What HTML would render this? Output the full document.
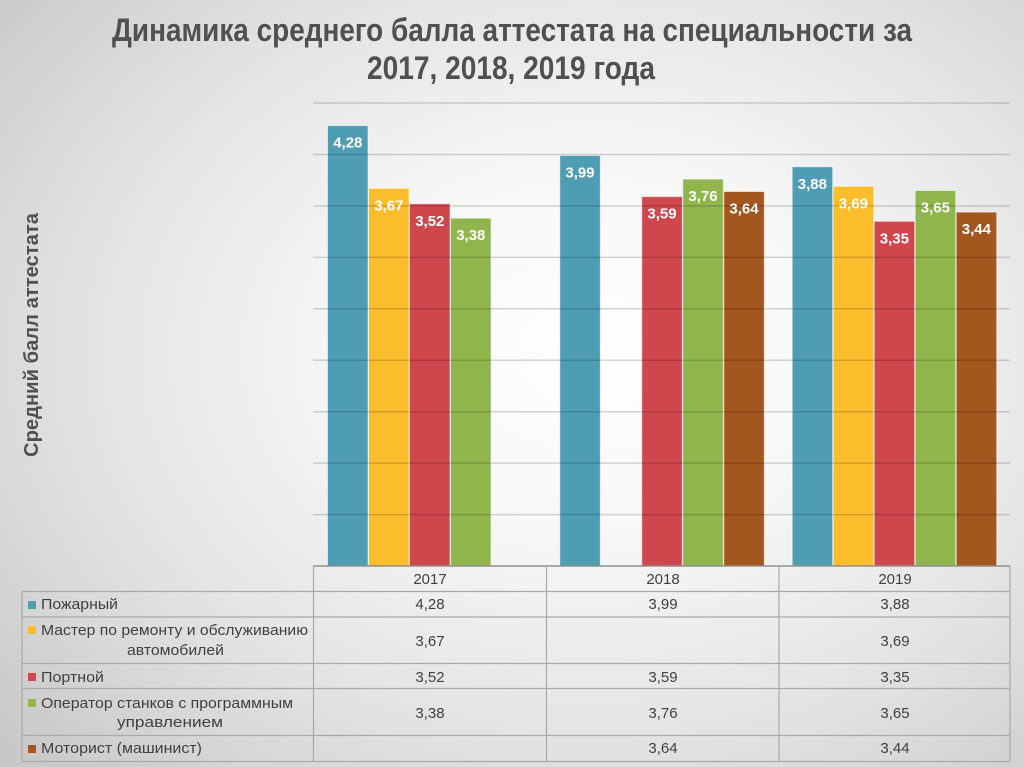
<!DOCTYPE html>
<html>
<head>
<meta charset="utf-8">
<style>
html,body{margin:0;padding:0;}
body{width:1024px;height:767px;overflow:hidden;
background:radial-gradient(ellipse 78% 80% at 58% 46%, #ffffff 0%, #f7f7f7 30%, #e4e4e4 62%, #d2d2d2 85%, #c6c6c6 100%);}
svg{display:block;}
text{font-family:"Liberation Sans","DejaVu Sans",sans-serif;}
</style>
</head>
<body>
<svg width="1024" height="767" viewBox="0 0 1024 767" xmlns="http://www.w3.org/2000/svg">
  <!-- Title -->
  <text x="512" y="41" text-anchor="middle" font-size="32" font-weight="bold" fill="#505050" textLength="800" lengthAdjust="spacingAndGlyphs">Динамика среднего балла аттестата на специальности за</text>
  <text x="511" y="79" text-anchor="middle" font-size="32" font-weight="bold" fill="#505050" textLength="288" lengthAdjust="spacingAndGlyphs">2017, 2018, 2019 года</text>

  <!-- Y axis label -->
  <text transform="translate(38,335) rotate(-90)" text-anchor="middle" font-size="20" font-weight="bold" fill="#505050" textLength="244" lengthAdjust="spacingAndGlyphs">Средний балл аттестата</text>

  <!-- Bars -->
  <g stroke="rgba(255,255,255,0.55)" stroke-width="1">
    <!-- 2017 -->
    <rect x="327.5" y="125.6" width="40.5" height="440.4" fill="#4e9db3"/>
    <rect x="368.5" y="188.4" width="40.5" height="377.6" fill="#fcbd2d"/>
    <rect x="409.5" y="203.8" width="40.5" height="362.2" fill="#ce474c"/>
    <rect x="450.5" y="218.2" width="40.5" height="347.8" fill="#90b54c"/>
    <!-- 2018 -->
    <rect x="559.8" y="155.5" width="40.5" height="410.5" fill="#4e9db3"/>
    <rect x="641.8" y="196.6" width="40.5" height="369.4" fill="#ce474c"/>
    <rect x="682.8" y="179.1" width="40.5" height="386.9" fill="#90b54c"/>
    <rect x="723.8" y="191.5" width="40.5" height="374.5" fill="#a4561f"/>
    <!-- 2019 -->
    <rect x="792.2" y="166.8" width="40.5" height="399.2" fill="#4e9db3"/>
    <rect x="833.2" y="186.3" width="40.5" height="379.7" fill="#fcbd2d"/>
    <rect x="874.2" y="221.3" width="40.5" height="344.7" fill="#ce474c"/>
    <rect x="915.2" y="190.5" width="40.5" height="375.5" fill="#90b54c"/>
    <rect x="956.2" y="212.1" width="40.5" height="353.9" fill="#a4561f"/>
  </g>

  <!-- Gridlines (drawn over bars) -->
  <g stroke="rgba(0,0,0,0.16)" stroke-width="1.5">
    <line x1="313" y1="103" x2="1010" y2="103"/>
    <line x1="313" y1="154.5" x2="1010" y2="154.5"/>
    <line x1="313" y1="205.9" x2="1010" y2="205.9"/>
    <line x1="313" y1="257.4" x2="1010" y2="257.4"/>
    <line x1="313" y1="308.8" x2="1010" y2="308.8"/>
    <line x1="313" y1="360.2" x2="1010" y2="360.2"/>
    <line x1="313" y1="411.7" x2="1010" y2="411.7"/>
    <line x1="313" y1="463.1" x2="1010" y2="463.1"/>
    <line x1="313" y1="514.6" x2="1010" y2="514.6"/>
  </g>

  <!-- Bar value labels -->
  <g font-size="15" font-weight="bold" fill="#ffffff" text-anchor="middle">
    <text x="347.8" y="147.6">4,28</text>
    <text x="388.8" y="210.4">3,67</text>
    <text x="429.8" y="225.8">3,52</text>
    <text x="470.8" y="240.2">3,38</text>
    <text x="580" y="177.5">3,99</text>
    <text x="662" y="218.6">3,59</text>
    <text x="703" y="201.1">3,76</text>
    <text x="744" y="213.5">3,64</text>
    <text x="812.4" y="188.8">3,88</text>
    <text x="853.4" y="208.3">3,69</text>
    <text x="894.4" y="243.3">3,35</text>
    <text x="935.4" y="212.5">3,65</text>
    <text x="976.4" y="234.1">3,44</text>
  </g>

  <!-- Data table -->
  <g stroke="#a9a9a9" stroke-width="1.2" fill="none">
    <line x1="313" y1="566" x2="1010" y2="566" stroke="#8f8f8f" stroke-width="1.5"/>
    <line x1="22" y1="591.5" x2="1010" y2="591.5"/>
    <line x1="22" y1="617" x2="1010" y2="617"/>
    <line x1="22" y1="663.5" x2="1010" y2="663.5"/>
    <line x1="22" y1="688.5" x2="1010" y2="688.5"/>
    <line x1="22" y1="735.5" x2="1010" y2="735.5"/>
    <line x1="22" y1="761.5" x2="1010" y2="761.5"/>
    <line x1="22" y1="591.5" x2="22" y2="761.5"/>
    <line x1="313.5" y1="566" x2="313.5" y2="761.5"/>
    <line x1="546.5" y1="566" x2="546.5" y2="761.5"/>
    <line x1="779" y1="566" x2="779" y2="761.5"/>
    <line x1="1010" y1="566" x2="1010" y2="761.5"/>
  </g>

  <g font-size="15" fill="#404040" text-anchor="middle">
    <text x="430" y="584">2017</text>
    <text x="663" y="584">2018</text>
    <text x="895" y="584">2019</text>

    <text x="430" y="609">4,28</text>
    <text x="663" y="609">3,99</text>
    <text x="895" y="609">3,88</text>

    <text x="430" y="646">3,67</text>
    <text x="895" y="646">3,69</text>

    <text x="430" y="682">3,52</text>
    <text x="663" y="682">3,59</text>
    <text x="895" y="682">3,35</text>

    <text x="430" y="718">3,38</text>
    <text x="663" y="718">3,76</text>
    <text x="895" y="718">3,65</text>

    <text x="663" y="753">3,64</text>
    <text x="895" y="753">3,44</text>
  </g>

  <!-- Legend markers -->
  <rect x="28" y="601" width="8" height="8" fill="#4e9db3"/>
  <rect x="28" y="626" width="8" height="8" fill="#fcbd2d"/>
  <rect x="28" y="673" width="8" height="8" fill="#ce474c"/>
  <rect x="28" y="699" width="8" height="8" fill="#90b54c"/>
  <rect x="28" y="745" width="8" height="8" fill="#a4561f"/>

  <g font-size="15" fill="#404040">
    <text x="41" y="609" textLength="77" lengthAdjust="spacingAndGlyphs">Пожарный</text>
    <text x="41" y="635" textLength="267" lengthAdjust="spacingAndGlyphs">Мастер по ремонту и обслуживанию</text>
    <text x="127" y="655" textLength="97" lengthAdjust="spacingAndGlyphs">автомобилей</text>
    <text x="41" y="682" textLength="63" lengthAdjust="spacingAndGlyphs">Портной</text>
    <text x="41" y="708" textLength="252" lengthAdjust="spacingAndGlyphs">Оператор станков с программным</text>
    <text x="117" y="727" textLength="106" lengthAdjust="spacingAndGlyphs">управлением</text>
    <text x="41" y="753" textLength="161" lengthAdjust="spacingAndGlyphs">Моторист (машинист)</text>
  </g>
</svg>
</body>
</html>
